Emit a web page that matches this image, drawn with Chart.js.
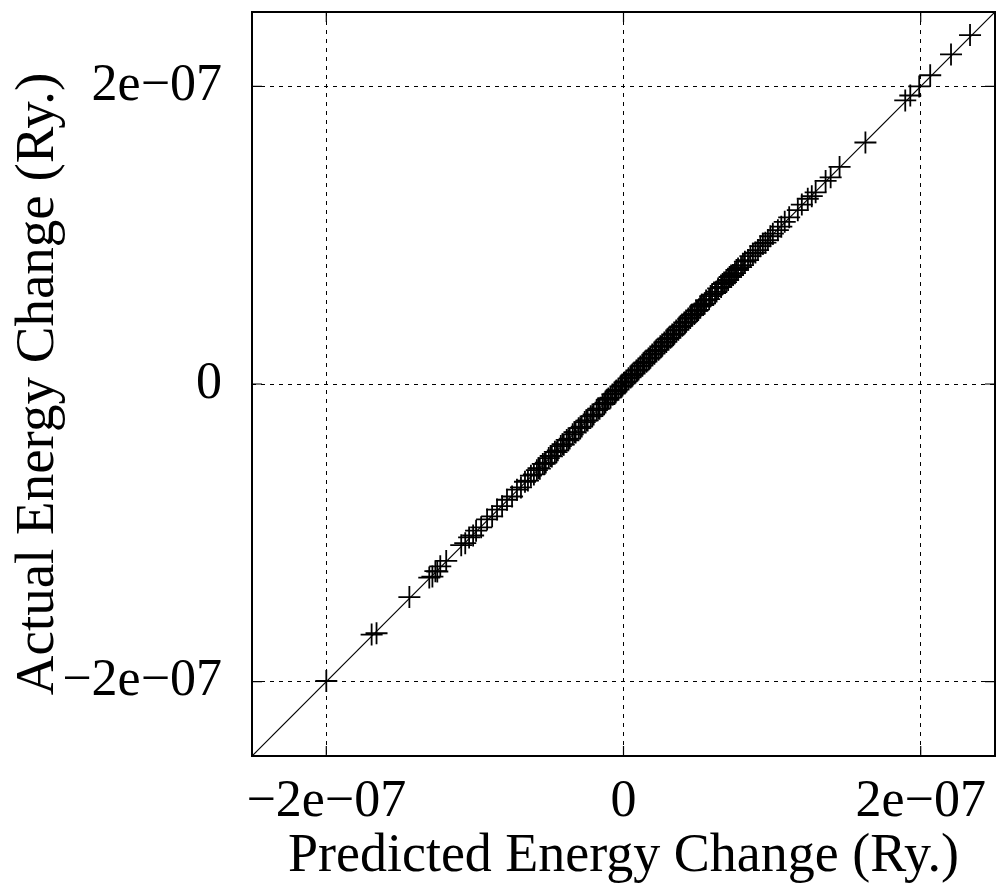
<!DOCTYPE html>
<html>
<head>
<meta charset="utf-8">
<script src="https://cdn.jsdelivr.net/npm/chart.js@4/dist/chart.umd.min.js"></script>
<style>
  html, body { margin: 0; padding: 0; background: #fff; }
  canvas { display: block; }
</style>
</head>
<body>
<canvas id="myChart" width="998" height="894"></canvas>
<script>
// values in units of 1e-9 Ry
var predicted = [
    -200.0, -169.5, -166.2, -144.1, -130.7, -128.6, -126.6, -125.3, -123.3, -119.3,
    -109.2, -106.5, -103.9, -101.2, -99.2, -95.8, -91.8, -88.4, -85.1, -81.7,
    -78.4, -75.0, -71.7, -69.0, -66.3, -64.3, -62.3, -60.3, -58.3, -56.3,
    -54.3, -52.3, -50.3, -48.2, -46.2, -44.2, -42.2, -40.2, -38.2, -36.2,
    -34.2, -32.2, -30.2, -28.1, -26.1, -24.1, -22.1, -20.1, -18.1, -16.1,
    -14.1, -12.1, -10.1, -8.7, -7.4, -6.0, -4.7, -3.4, -2.0, -0.7,
    0.7, 2.0, 3.4, 4.7, 6.0, 7.4, 8.7, 10.1, 11.4, 12.7,
    14.1, 15.4, 16.8, 18.1, 19.4, 20.8, 22.1, 23.5, 24.8, 26.1,
    27.5, 28.8, 30.2, 31.5, 32.8, 34.2, 35.5, 36.9, 38.2, 39.5,
    40.9, 42.2, 43.6, 44.9, 46.2, 47.6, 48.9, 50.3, 51.6, 53.6,
    55.6, 57.6, 59.6, 61.6, 63.7, 65.7, 67.7, 70.4, 72.4, 75.0,
    77.1, 79.1, 81.7, 83.8, 87.1, 90.5, 93.8, 97.2, 100.5, 103.9,
    108.5, 117.3, 124.0, 129.3, 136.0, 139.4, 145.4, 162.8, 189.6, 193.0,
    199.0, 206.4, 220.4, 233.2,
    -57.2, -53.1, -49.0, -45.1, -41.0, -37.1, -33.0, -29.1, -25.0, -21.0,
    -17.0, -13.0, -11.0, -5.3, -1.3, 1.3, 5.3, 9.4, 13.4, 17.4,
    21.4, 25.5, 29.5, 33.5, 37.5, 41.5, 45.5, 49.6, 52.6, 54.6,
    58.6, 62.6, 66.7, 69.0, 71.4, 73.7, 76.0, 80.4, 85.4, 88.8,
    92.1, 95.5, 98.8, 106.2, 111.5, 120.0, 126.7
];
var actual = [
    -199.6, -168.4, -167.5, -143.2, -130.1, -129.4, -125.8, -126.0, -122.5, -118.9,
    -108.3, -107.0, -103.1, -101.8, -98.6, -96.3, -91.0, -88.9, -84.4, -82.1,
    -77.8, -75.6, -71.0, -69.5, -65.7, -64.9, -61.6, -60.8, -57.9, -56.9,
    -53.7, -52.8, -49.8, -48.7, -45.6, -44.6, -41.7, -40.8, -37.6, -36.7,
    -33.8, -32.6, -29.7, -28.6, -25.6, -24.5, -21.7, -20.5, -17.6, -16.6,
    -13.7, -12.5, -9.7, -9.1, -7.0, -6.4, -4.3, -3.8, -1.6, -1.0,
    1.0, 1.7, 3.8, 4.4, 6.4, 7.0, 9.1, 9.7, 11.8, 12.3,
    14.5, 15.0, 17.2, 17.7, 19.8, 20.4, 22.6, 23.0, 25.3, 25.7,
    27.9, 28.3, 30.6, 31.0, 33.3, 33.7, 36.0, 36.4, 38.7, 39.1,
    41.4, 41.8, 44.0, 44.4, 46.7, 47.1, 49.4, 49.8, 52.1, 53.1,
    56.1, 57.1, 60.1, 61.1, 64.2, 65.2, 68.2, 69.9, 72.9, 74.5,
    77.6, 78.6, 82.2, 83.3, 87.6, 90.0, 94.3, 96.7, 101.0, 103.4,
    109.0, 116.8, 124.5, 128.8, 136.5, 138.9, 145.9, 162.3, 190.6, 193.9,
    200.0, 207.5, 221.5, 234.5,
    -56.6, -53.7, -48.4, -45.8, -40.5, -37.8, -32.4, -29.7, -24.6, -21.6,
    -16.5, -13.5, -10.6, -5.0, -1.8, 1.0, 5.7, 9.0, 13.9, 17.0,
    21.9, 25.0, 30.0, 33.0, 38.0, 41.1, 46.0, 49.1, 53.2, 54.1,
    59.1, 62.1, 67.2, 68.5, 71.9, 73.2, 76.6, 79.9, 85.9, 88.3,
    92.6, 95.0, 99.3, 105.7, 112.0, 120.6, 126.2
];
// y = x reference line
var lineX = [-2.5e-7, 2.5e-7];
var lineY = [-2.5e-7, 2.5e-7];

var xTicks = [-2e-7, 0, 2e-7];
var yTicks = [-2e-7, 0, 2e-7];
var tickLabels = ['\u22122e\u221207', '0', '2e\u221207'];

var points = predicted.map(function (p, i) {
    return { x: p * 1e-9, y: actual[i] * 1e-9 };
});
var diag = lineX.map(function (v, i) {
    return { x: v, y: lineY[i] };
});

function label(v) {
    var i = xTicks.indexOf(v);
    return i >= 0 ? tickLabels[i] : '';
}

function noPad(s) {
    s.paddingTop = 0;
    s.paddingBottom = 0;
    s.paddingLeft = 0;
    s.paddingRight = 0;
}

var framePlugin = {
    id: 'frame',
    afterDatasetsDraw: function (chart) {
        var ctx = chart.ctx;
        var a = chart.chartArea;
        var sx = chart.scales.x;
        var sy = chart.scales.y;
        ctx.save();
        ctx.strokeStyle = '#000';
        ctx.lineWidth = 1.2;
        ctx.beginPath();
        xTicks.forEach(function (v) {
            var p = sx.getPixelForValue(v);
            ctx.moveTo(p, a.bottom); ctx.lineTo(p, a.bottom - 10);
            ctx.moveTo(p, a.top); ctx.lineTo(p, a.top + 10);
        });
        yTicks.forEach(function (v) {
            var p = sy.getPixelForValue(v);
            ctx.moveTo(a.left, p); ctx.lineTo(a.left + 10, p);
            ctx.moveTo(a.right, p); ctx.lineTo(a.right - 10, p);
        });
        ctx.stroke();
        ctx.lineWidth = 2;
        ctx.strokeRect(a.left, a.top, a.right - a.left, a.bottom - a.top);
        ctx.restore();
    }
};

var font = 'Liberation Serif';
var ctx = document.getElementById('myChart').getContext('2d');
var chart = new Chart(ctx, {
    type: 'scatter',
    data: {
        datasets: [
            {
                type: 'line',
                data: diag,
                borderColor: '#000',
                borderWidth: 1.2,
                pointRadius: 0,
                fill: false
            }, {
                data: points,
                pointStyle: 'cross',
                pointRadius: 11,
                pointHoverRadius: 11,
                borderColor: '#000',
                backgroundColor: '#000',
                pointBorderWidth: 1.8,
                borderWidth: 1.8
            }]
    },
    options: {
        responsive: false,
        animation: false,
        layout: { autoPadding: false, padding: { top: 12, right: 3, left: 0, bottom: 0 } },
        plugins: { legend: { display: false }, tooltip: { enabled: false } },
        scales: {
            x: {
                type: 'linear',
                min: -2.5e-7,
                max: 2.5e-7,
                afterBuildTicks: function (s) { s.ticks = xTicks.map(function (v) { return { value: v }; }); },
                afterFit: function (s) { s.height = 138; noPad(s); },
                grid: { color: '#000', lineWidth: 1, drawTicks: false },
                border: { display: false, dash: [4, 5] },
                ticks: {
                    autoSkip: false,
                    maxRotation: 0,
                    padding: 15,
                    color: '#000',
                    font: { family: font, size: 52 },
                    callback: label
                },
                title: {
                    display: true,
                    text: 'Predicted Energy Change (Ry.)',
                    color: '#000',
                    font: { family: font, size: 54 },
                    padding: { top: 0, bottom: 5 }
                }
            },
            y: {
                type: 'linear',
                min: -2.5e-7,
                max: 2.5e-7,
                afterBuildTicks: function (s) { s.ticks = yTicks.map(function (v) { return { value: v }; }); },
                afterFit: function (s) { s.width = 252; noPad(s); },
                grid: { color: '#000', lineWidth: 1, drawTicks: false },
                border: { display: false, dash: [4, 5] },
                ticks: {
                    autoSkip: false,
                    padding: 30,
                    color: '#000',
                    font: { family: font, size: 52 },
                    callback: label
                },
                title: {
                    display: true,
                    text: 'Actual Energy Change (Ry.)',
                    color: '#000',
                    font: { family: font, size: 55 },
                    padding: { top: 6, bottom: 0 }
                }
            }
        }
    },
    plugins: [framePlugin]
});
</script>
</body>
</html>
